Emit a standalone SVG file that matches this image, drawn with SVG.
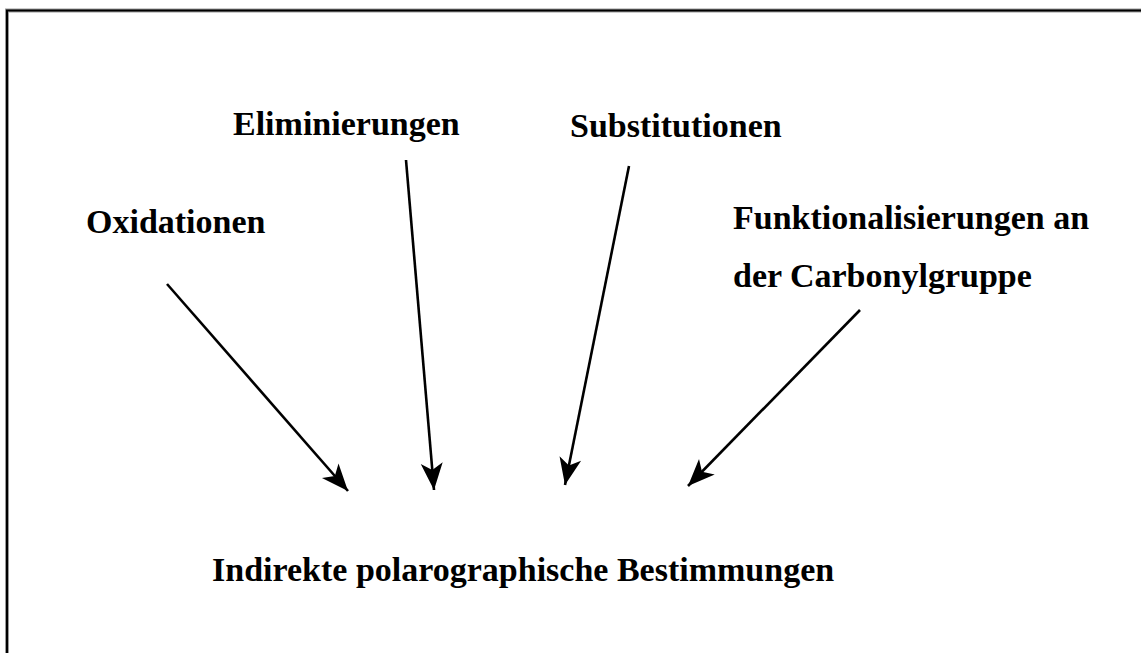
<svg xmlns="http://www.w3.org/2000/svg" width="1141" height="653" viewBox="0 0 1141 653">
<defs>
<marker id="ah" markerUnits="userSpaceOnUse" markerWidth="32" markerHeight="32" viewBox="-30 -15 32 30" refX="0" refY="0" orient="auto">
<path d="M0,0 L-27,-11 L-20,0 L-27,11 Z" fill="#000"/>
</marker>
</defs>
<style>
.t{font-family:"Liberation Serif","Times New Roman",serif;font-weight:bold;font-size:34px;fill:#000}
.c{stroke:#000;stroke-width:2.6;fill:none;marker-end:url(#ah)}
</style>
<rect width="1141" height="653" fill="#fff"/>
<path d="M7,653 V10.5 H1141" fill="none" stroke="#999" stroke-width="4"/>
<path d="M7,653 V10.5 H1141" fill="none" stroke="#000" stroke-width="2"/>
<g id="connectors">
<line class="c" x1="167" y1="284" x2="348" y2="491"/>
<line class="c" x1="406" y1="160" x2="434" y2="490"/>
<line class="c" x1="629" y1="166" x2="565" y2="485"/>
<line class="c" x1="860" y1="310" x2="688" y2="486"/>
</g>
<g id="oxidationen"><text class="t" x="86" y="233">Oxidationen</text></g>
<g id="eliminierungen"><text class="t" x="233" y="135">Eliminierungen</text></g>
<g id="substitutionen"><text class="t" x="570" y="137">Substitutionen</text></g>
<g id="funktionalisierungen"><text class="t" x="733" y="229">Funktionalisierungen an</text><text class="t" x="733" y="287">der Carbonylgruppe</text></g>
<g id="bestimmungen"><text class="t" x="212" y="581">Indirekte polarographische Bestimmungen</text></g>
</svg>
